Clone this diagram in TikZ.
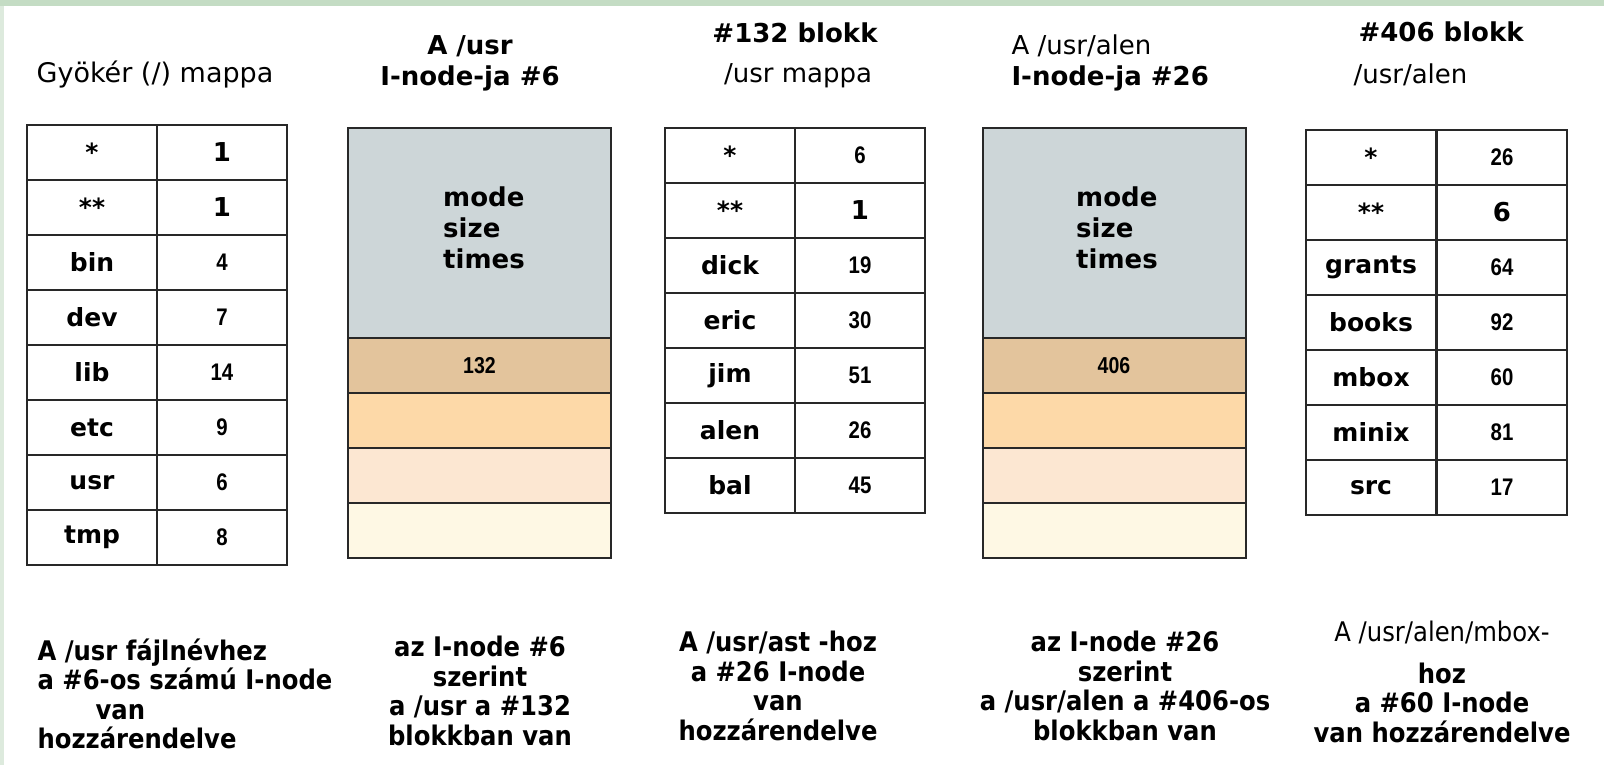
\documentclass[tikz,border=0pt]{standalone}
\usepackage{fontspec}
\setmainfont{DejaVu Sans}
\newfontfamily\narrowfont[FakeStretch=0.85]{Liberation Sans}
\newfontfamily\condfont[FakeStretch=0.9]{DejaVu Sans}
\definecolor{frame1}{RGB}{196,220,196}
\definecolor{frame2}{RGB}{221,234,221}
\definecolor{gray1}{RGB}{205,214,216}
\definecolor{brown1}{RGB}{227,196,156}
\definecolor{orange1}{RGB}{253,217,168}
\definecolor{peach1}{RGB}{252,231,210}
\definecolor{cream1}{RGB}{254,248,228}
\definecolor{line1}{RGB}{40,40,40}
\newcommand{\bignum}{\normalfont\bfseries\fontsize{26}{30}\selectfont}

\begin{document}
\begin{tikzpicture}[x=1pt, y=-1pt,
  namecell/.style={draw=line1, line width=2pt, minimum width=130pt, minimum height=55pt,
    inner sep=0pt, font=\fontsize{25}{30}\selectfont\bfseries},
  valcell/.style={namecell, font=\fontsize{24}{28}\selectfont\narrowfont\bfseries},
  inodetop/.style={draw=line1, line width=2pt, fill=gray1, minimum width=263pt,
    minimum height=210pt, inner sep=0pt},
  band/.style={draw=line1, line width=2pt, minimum width=263pt, minimum height=55pt,
    inner sep=0pt, font=\fontsize{23}{28}\selectfont\narrowfont\bfseries},
  inodetext/.style={align=left, font=\fontsize{26}{31}\selectfont\bfseries},
  titlebold/.style={font=\fontsize{26}{31}\selectfont\bfseries},
  titleplain/.style={font=\fontsize{26}{31}\selectfont},
  note/.style={align=center, font=\fontsize{27}{29.5}\selectfont\condfont\bfseries}]
  \useasboundingbox (0,0) rectangle (1604,765);
  \fill[frame2] (0,0) rectangle (4,765);
  \fill[frame1] (0,0) rectangle (1604,6);

  % root folder
  \node[titleplain, font=\fontsize{27}{31}\selectfont] (roottitle) at (155,75) {Gyökér (/) mappa};
  \foreach \nm/\vl [count=\i] in {{*}/{\bignum 1},{**}/{\bignum 1},bin/4,dev/7,lib/14,etc/9,usr/6,tmp/8} {
    \node[namecell] (root\i) at (92,97.5+55*\i) {\nm};
    \node[valcell] (rootv\i) at (222,97.5+55*\i) {\vl};
  }

  % i-node 6
  \node[titlebold, align=center] (ino6title) at (470,63) {A /usr\\I-node-ja \#6};
  \node[inodetop] (ino6) at (479.5,233) {};
  \node[inodetext] (ino6text) at (484,228) {mode\\size\\times};
  \foreach \c/\t [count=\i] in {brown1/132,orange1/{},peach1/{},cream1/{}}
    \node[band, fill=\c] (ino6b\i) at (479.5,310.5+55*\i) {\t};

  % block 132
  \node[align=center, font=\fontsize{26}{40}\selectfont] (blk132title) at (795,55)
    {{\bfseries\#132 blokk}\\\hspace*{6pt}/usr mappa};
  \foreach \nm/\vl [count=\i] in {{*}/6,{**}/{\bignum 1},dick/19,eric/30,jim/51,alen/26,bal/45} {
    \node[namecell] (usr\i) at (730,100.5+55*\i) {\nm};
    \node[valcell] (usrv\i) at (860,100.5+55*\i) {\vl};
  }

  % i-node 26
  \node[align=left, anchor=west, font=\fontsize{26}{31}\selectfont] (ino26title) at (1008,63)
    {A /usr/alen\\{\bfseries I-node-ja \#26}};
  \node[inodetop] (ino26) at (1114,233) {};
  \node[inodetext] (ino26text) at (1117,228) {mode\\size\\times};
  \foreach \c/\t [count=\i] in {brown1/406,orange1/{},peach1/{},cream1/{}}
    \node[band, fill=\c] (ino26b\i) at (1114,310.5+55*\i) {\t};

  % block 406
  \node[align=left, anchor=west, font=\fontsize{26}{42}\selectfont] (blk406title) at (1350,54)
    {\hspace*{5pt}{\bfseries\#406 blokk}\\/usr/alen};
  \foreach \nm/\vl [count=\i] in {{*}/26,{**}/{\bignum 6},grants/64,books/92,mbox/60,minix/81,src/17} {
    \node[namecell] (alen\i) at (1371,102.5+55*\i) {\nm};
    \node[valcell] (alenv\i) at (1502,102.5+55*\i) {\vl};
  }

  % notes below
  \node[note, align=left, anchor=west] (note1) at (34,694)
    {A /usr fájlnévhez\\a \#6-os számú I-node\\\hspace*{58pt}van\\hozzárendelve};
  \node[note] (note2) at (480,691) {az I-node \#6\\szerint\\a /usr a \#132\\blokkban van};
  \node[note] (note3) at (778,686) {A /usr/ast -hoz\\a \#26 I-node\\van\\hozzárendelve};
  \node[note] (note4) at (1125,686) {az I-node \#26\\szerint\\a /usr/alen a \#406-os\\blokkban van};
  \node[note] (note5) at (1442,682)
    {{\mdseries A /usr/alen/mbox-}\\[12pt]hoz\\a \#60 I-node\\van hozzárendelve};
\end{tikzpicture}
\end{document}
